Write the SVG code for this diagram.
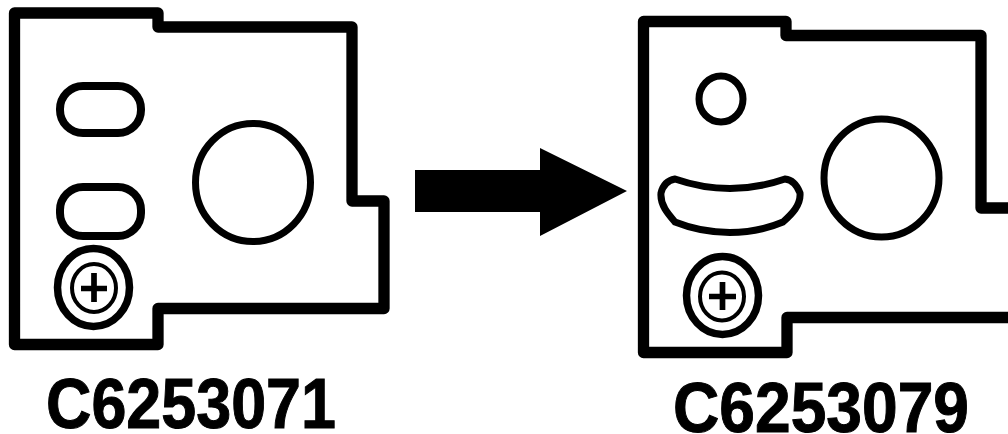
<svg xmlns="http://www.w3.org/2000/svg" width="1008" height="434" viewBox="0 0 1008 434">
<style>
.o{fill:none;stroke:#000;stroke-width:11.300;stroke-linejoin:round}
.h{fill:none;stroke:#000;stroke-width:7}
.v{fill:none;stroke:#000;stroke-width:8}
.s{fill:none;stroke:#000;stroke-width:7.500}
.i{fill:none;stroke:#000;stroke-width:4}
.p{fill:none;stroke:#000;stroke-width:5.700}
.t{font-family:"Liberation Sans",Arial,sans-serif;font-weight:700;font-size:70px;fill:#000;stroke:#000;stroke-width:1}
</style>
<rect width="1008" height="434" fill="#fff"/>
<g id="left-plate">
<path class="o" d="M14.500 13H158V27H352V201H384V308.500H158V344.500H14.500Z"/>
<rect class="v" x="60" y="86" width="81" height="47" rx="23"/>
<rect class="v" x="60" y="187" width="81" height="49" rx="23"/>
<ellipse class="h" cx="253" cy="182.500" rx="57.500" ry="59"/>
<ellipse class="s" cx="93.500" cy="287.500" rx="36" ry="39"/>
<ellipse class="i" cx="94" cy="288" rx="22" ry="24"/>
<path class="p" d="M81 288.500H107M94 273V302"/>
<text class="t" x="46" y="428" textLength="290" lengthAdjust="spacingAndGlyphs">C6253071</text>
</g>
<g id="right-plate">
<path class="o" d="M1012 208H981V35.500H786V21.500H643.500V352.500H787V317.500H1012"/>
<ellipse class="h" cx="721" cy="99" rx="22" ry="23"/>
<path class="h" d="M675 179Q730 198 785 179Q795 180 800 193C801 205 792 214 783 222C750 236 710 236 675 222C668 214 660 205 661 193Q664 181 675 179Z"/>
<ellipse class="h" cx="881.500" cy="178" rx="57.500" ry="59"/>
<ellipse class="s" cx="722.500" cy="295.500" rx="36" ry="39"/>
<ellipse class="i" cx="722" cy="296.500" rx="22" ry="24"/>
<path class="p" d="M709 296.500H736M722.500 282V310"/>
<text class="t" x="673" y="431.500" textLength="296" lengthAdjust="spacingAndGlyphs">C6253079</text>
</g>
<g id="connectors">
<path d="M415 170H540V148L627 191L540 236V212H415Z" fill="#000"/>
</g>
</svg>
